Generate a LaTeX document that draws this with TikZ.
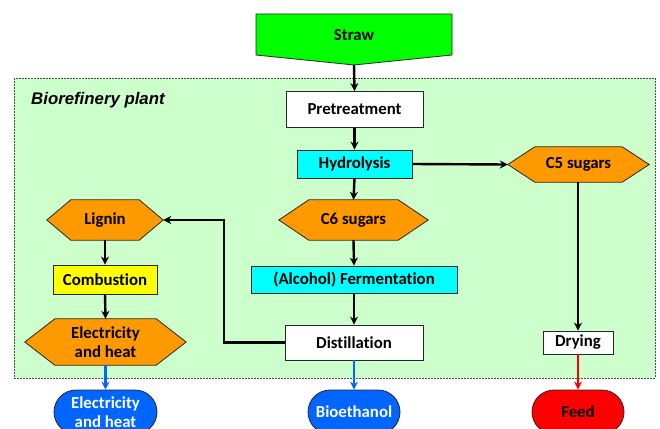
\documentclass[tikz,border=0pt]{standalone}
\usepackage{fontspec}
\setmainfont{Carlito}[Ligatures={NoCommon}]
\newfontfamily\arialfont{Liberation Sans}
\usetikzlibrary{arrows.meta,calc}
\definecolor{strawgreen}{HTML}{00FF00}
\definecolor{plantgreen}{HTML}{CCFFCC}
\definecolor{hydcyan}{HTML}{00FFFF}
\definecolor{sugorange}{HTML}{FF9900}
\definecolor{combyellow}{HTML}{FFFF00}
\definecolor{outblue}{HTML}{0066FF}
\definecolor{feedred}{HTML}{FF0000}
\begin{document}
\begin{tikzpicture}[x=1pt,y=-1pt,
  lab/.style={font=\fontsize{16.8}{19.5}\selectfont\bfseries, align=center, inner sep=0pt},
  box/.style={lab, draw=black!85, line width=0.8pt, fill=white},
  hexnode/.style={lab, draw=none},
  hexpath/.style={draw=black!85, line width=0.8pt, fill=sugorange},
  stad/.style={lab, draw=black!85, line width=0.8pt},
  conn/.style={draw=black, line width=2.4pt, -{Stealth[length=8pt,width=8pt]}},
  bconn/.style={draw=outblue, line width=2.4pt, -{Stealth[length=8pt,width=8pt]}},
  rconn/.style={draw=feedred, line width=2.4pt, -{Stealth[length=8pt,width=8pt]}}
]
\useasboundingbox (0,0) rectangle (660,428);
\clip (0,0) rectangle (660,428);

% plant area
\draw[fill=plantgreen, draw=black!70, dashed, dash pattern=on 2pt off 1pt, line width=0.8pt] (14,78) rectangle (655,378);
\node[anchor=west, inner sep=0pt, font=\arialfont\fontsize{16.8}{19}\selectfont\bfseries\itshape] (plantlab) at (31,100) {Biorefinery plant};

% straw
\draw[fill=strawgreen, draw=black!85, line width=0.8pt] (256,14) -- (452,14) -- (452,55) -- (354,65) -- (256,55) -- cycle;
\node[lab] (straw) at (354,35) {Straw};
\coordinate (strawtip) at (354,65);

% central column
\node[box, minimum width=137pt, minimum height=36pt] (pre) at (354.5,109.5) {Pretreatment};
\node[box, fill=hydcyan, minimum width=115pt, minimum height=28pt] (hyd) at (354.5,164) {Hydrolysis};
\node[hexnode, minimum width=149pt, minimum height=40pt] (c6) at (353.5,220) {};
\draw[hexpath] (c6.west) -- ($(c6.north west)+(30,0)$) -- ($(c6.north east)+(-30,0)$) -- (c6.east) -- ($(c6.south east)+(-30,0)$) -- ($(c6.south west)+(30,0)$) -- cycle;
\node[lab] at (c6) {C6 sugars};
\node[box, fill=hydcyan, minimum width=206pt, minimum height=27pt] (ferm) at (354,279.5) {(Alcohol) Fermentation};
\node[box, minimum width=138pt, minimum height=35pt] (dist) at (354,342.5) {Distillation};
\node[stad, fill=outblue, text=white, minimum width=92pt, minimum height=44pt, rounded corners=22pt] (bioeth) at (354,412) {Bioethanol};

% right column
\node[hexnode, minimum width=141pt, minimum height=35pt] (c5) at (578.5,164.5) {};
\draw[hexpath] (c5.west) -- ($(c5.north west)+(27,0)$) -- ($(c5.north east)+(-27,0)$) -- (c5.east) -- ($(c5.south east)+(-27,0)$) -- ($(c5.south west)+(27,0)$) -- cycle;
\node[lab] at (c5) {C5 sugars};
\node[box, minimum width=70pt, minimum height=23pt] (dry) at (578,342.5) {Drying};
\node[stad, fill=feedred, minimum width=92pt, minimum height=44pt, rounded corners=22pt] (feed) at (578,412) {Feed};

% left column
\node[hexnode, minimum width=116pt, minimum height=40pt] (lig) at (105,220) {};
\draw[hexpath] (lig.west) -- ($(lig.north west)+(24,0)$) -- ($(lig.north east)+(-24,0)$) -- (lig.east) -- ($(lig.south east)+(-24,0)$) -- ($(lig.south west)+(24,0)$) -- cycle;
\node[lab] at (lig) {Lignin};
\node[box, fill=combyellow, minimum width=104pt, minimum height=29pt] (comb) at (105,279.5) {Combustion};
\node[hexnode, minimum width=161pt, minimum height=46pt] (eh) at (105.5,342) {};
\draw[hexpath] (eh.west) -- ($(eh.north west)+(30,0)$) -- ($(eh.north east)+(-30,0)$) -- (eh.east) -- ($(eh.south east)+(-30,0)$) -- ($(eh.south west)+(30,0)$) -- cycle;
\node[lab] at (eh) {Electricity\\and heat};
\node[stad, fill=outblue, text=white, minimum width=103pt, minimum height=44pt, rounded corners=22pt] (ehout) at (105.5,412) {Electricity\\and heat};

% connectors
\draw[conn] (strawtip) -- (pre.north);
\draw[conn] (pre.south) -- (hyd.north);
\draw[conn] (hyd.south) -- (c6.north);
\draw[conn] (c6.south) -- (ferm.north);
\draw[conn] (ferm.south) -- (dist.north);
\draw[bconn] (dist.south) -- (bioeth.north);
\draw[conn] (hyd.east) -- (c5.west);
\draw[conn] (c5.south -| dry.north) -- (dry.north);
\draw[rconn] (dry.south) -- (feed.north);
\draw[conn] (dist.west) -- (224,342.5) |- (lig.east);
\draw[conn] (lig.south) -- (comb.north);
\draw[conn] (comb.south) -- (eh.north);
\draw[bconn] (eh.south) -- (ehout.north);
\end{tikzpicture}
\end{document}
